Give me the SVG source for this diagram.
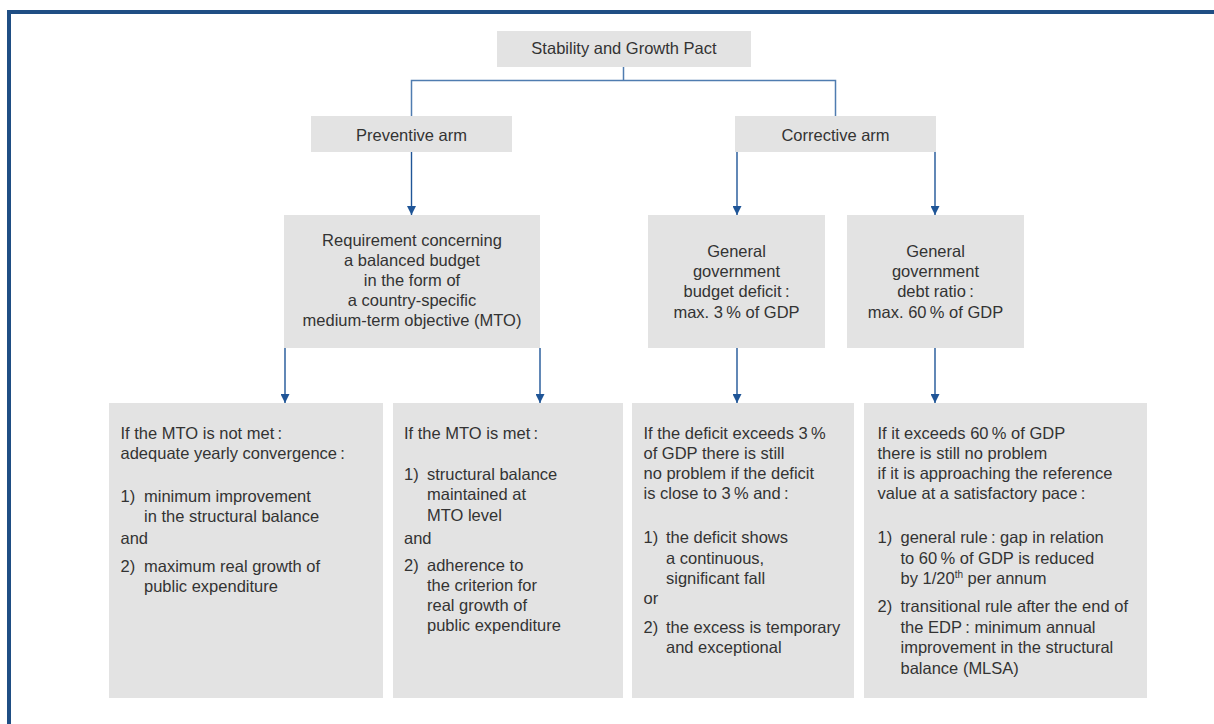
<svg xmlns="http://www.w3.org/2000/svg" width="1214" height="724" viewBox="0 0 1214 724">
<style>
.box{fill:#e3e3e3}
text{font-family:"Liberation Sans",Arial,sans-serif;font-size:16.5px;fill:#333}
.c{text-anchor:middle}
.tree{fill:none;stroke:#4f7cb0;stroke-width:1.5}
.arr{fill:none;stroke:#1f5597;stroke-width:1.4;marker-end:url(#ah)}
</style>
<defs>
<marker id="ah" markerUnits="userSpaceOnUse" markerWidth="10" markerHeight="9" refX="9" refY="4.5" orient="auto">
<path d="M0,0 L9,4.5 L0,9 z" fill="#1f5597"/>
</marker>
</defs>
<rect width="1214" height="724" fill="#fff"/>
<g id="frame">
<rect x="7" y="10" width="1207" height="4" fill="#1f4e84"/>
<rect x="7" y="10" width="4" height="714" fill="#1f4e84"/>
</g>
<g id="connectors">
<path class="tree" d="M623.5,67 V80.5 M411.5,116 V80.5 H835.5 V116"/>
<path class="arr" d="M411.5,152 V215"/>
<path class="arr" d="M737,152 V215"/>
<path class="arr" d="M935,152 V215"/>
<path class="arr" d="M285,348 V403"/>
<path class="arr" d="M540,348 V403"/>
<path class="arr" d="M737,348 V403"/>
<path class="arr" d="M935,348 V403"/>
</g>
<g id="sgp">
<rect class="box" x="497" y="31" width="254" height="36"/>
<text class="c" x="624" y="54">Stability and Growth Pact</text>
</g>
<g id="preventive">
<rect class="box" x="311" y="116" width="201" height="36"/>
<text class="c" x="411.5" y="140.5">Preventive arm</text>
</g>
<g id="corrective">
<rect class="box" x="735" y="116" width="201" height="36"/>
<text class="c" x="835.5" y="140.5">Corrective arm</text>
</g>
<g id="mto">
<rect class="box" x="284" y="215" width="256" height="133"/>
<text class="c" x="412" y="245.5">Requirement concerning</text>
<text class="c" x="412" y="265.5">a balanced budget</text>
<text class="c" x="412" y="285.5">in the form of</text>
<text class="c" x="412" y="305.5">a country-specific</text>
<text class="c" x="412" y="326">medium-term objective (MTO)</text>
</g>
<g id="deficit">
<rect class="box" x="648" y="215" width="177" height="133"/>
<text class="c" x="736.5" y="257">General</text>
<text class="c" x="736.5" y="277">government</text>
<text class="c" x="736.5" y="297">budget deficit&#8201;:</text>
<text class="c" x="736.5" y="317.5">max. 3&#8201;% of GDP</text>
</g>
<g id="debt">
<rect class="box" x="847" y="215" width="177" height="133"/>
<text class="c" x="935.5" y="257">General</text>
<text class="c" x="935.5" y="277">government</text>
<text class="c" x="935.5" y="297">debt ratio&#8201;:</text>
<text class="c" x="935.5" y="317.5">max. 60&#8201;% of GDP</text>
</g>
<g id="notmet">
<rect class="box" x="109" y="403" width="274" height="295"/>
<text x="120.5" y="438.5">If the MTO is not met&#8201;:</text>
<text x="120.5" y="458.5">adequate yearly convergence&#8201;:</text>
<text x="120.5" y="501.5">1)</text>
<text x="144" y="501.5">minimum improvement</text>
<text x="144" y="521.5">in the structural balance</text>
<text x="120.5" y="544">and</text>
<text x="120.5" y="571.5">2)</text>
<text x="144" y="571.5">maximum real growth of</text>
<text x="144" y="591.5">public expenditure</text>
</g>
<g id="met">
<rect class="box" x="393" y="403" width="230" height="295"/>
<text x="404" y="438.5">If the MTO is met&#8201;:</text>
<text x="404" y="480">1)</text>
<text x="427" y="480">structural balance</text>
<text x="427" y="500">maintained at</text>
<text x="427" y="520.5">MTO level</text>
<text x="404" y="543.5">and</text>
<text x="404" y="571">2)</text>
<text x="427" y="571">adherence to</text>
<text x="427" y="591">the criterion for</text>
<text x="427" y="611">real growth of</text>
<text x="427" y="631">public expenditure</text>
</g>
<g id="deficitrule">
<rect class="box" x="632" y="403" width="222" height="295"/>
<text x="643.5" y="438.5">If the deficit exceeds 3&#8201;%</text>
<text x="643.5" y="458.5">of GDP there is still</text>
<text x="643.5" y="478.5">no problem if the deficit</text>
<text x="643.5" y="499">is close to 3&#8201;% and&#8201;:</text>
<text x="643.5" y="543">1)</text>
<text x="666" y="543">the deficit shows</text>
<text x="666" y="563.5">a continuous,</text>
<text x="666" y="583.5">significant fall</text>
<text x="643.5" y="604">or</text>
<text x="643.5" y="633">2)</text>
<text x="666" y="633">the excess is temporary</text>
<text x="666" y="653">and exceptional</text>
</g>
<g id="debtrule">
<rect class="box" x="864" y="403" width="283" height="295"/>
<text x="877.5" y="438.5">If it exceeds 60&#8201;% of GDP</text>
<text x="877.5" y="458.5">there is still no problem</text>
<text x="877.5" y="478.5">if it is approaching the reference</text>
<text x="877.5" y="499">value at a satisfactory pace&#8201;:</text>
<text x="877.5" y="543">1)</text>
<text x="900.5" y="543">general rule&#8201;: gap in relation</text>
<text x="900.5" y="563.5">to 60&#8201;% of GDP is reduced</text>
<text x="900.5" y="584">by 1/20<tspan font-size="10" dy="-6">th</tspan><tspan dy="6"> per annum</tspan></text>
<text x="877.5" y="612">2)</text>
<text x="900.5" y="612">transitional rule after the end of</text>
<text x="900.5" y="632.5">the EDP&#8201;: minimum annual</text>
<text x="900.5" y="653">improvement in the structural</text>
<text x="900.5" y="673.5">balance (MLSA)</text>
</g>
</svg>
